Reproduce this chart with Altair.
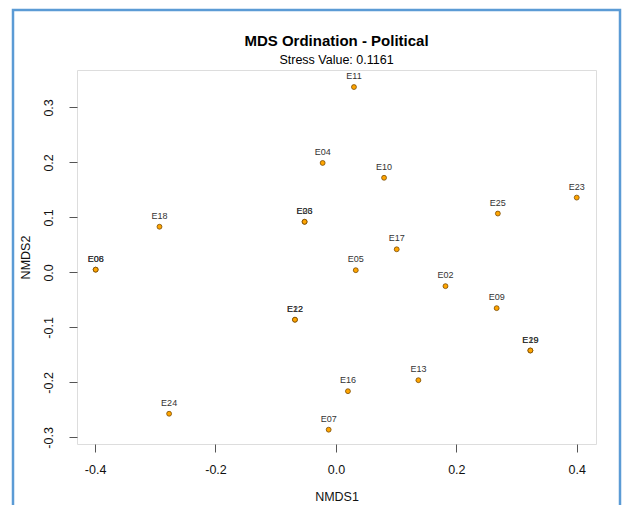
import altair as alt
import pandas as pd

# ---- data ----
sites = ["E11", "E04", "E10", "E23", "E25", "E18", "E06", "E08", "E03", "E26",
         "E17", "E05", "E02", "E09", "E29", "E19", "E22", "E12", "E13", "E16",
         "E07", "E24"]
nmds1 = [0.030, -0.022, 0.080, 0.400, 0.269, -0.293, -0.399, -0.399, -0.052, -0.052,
         0.101, 0.033, 0.182, 0.267, 0.323, 0.323, -0.068, -0.068, 0.137, 0.020,
         -0.012, -0.277]
nmds2 = [0.337, 0.199, 0.172, 0.136, 0.107, 0.083, 0.005, 0.005, 0.092, 0.092,
         0.042, 0.004, -0.025, -0.065, -0.142, -0.142, -0.086, -0.086, -0.196, -0.216,
         -0.286, -0.257]
x_ticks = [-0.4, -0.2, 0.0, 0.2, 0.4]
y_ticks = [-0.3, -0.2, -0.1, 0.0, 0.1, 0.2, 0.3]
x_domain = [-0.430, 0.432]
y_domain = [-0.312, 0.368]
title_text = "MDS Ordination - Political"
subtitle_text = "Stress Value: 0.1161"

df = pd.DataFrame({"site": sites, "NMDS1": nmds1, "NMDS2": nmds2})
one = pd.DataFrame({"a": [0]})

FONT = "Liberation Sans"
W, H = 519, 374
label_expr = "datum.value < 0 ? '-' + format(-datum.value, '.1f') : format(datum.value, '.1f')"

x_enc = alt.X(
    "NMDS1:Q",
    scale=alt.Scale(domain=x_domain, nice=False, zero=False),
    axis=alt.Axis(values=x_ticks, labelExpr=label_expr, grid=False, domain=False,
                  tickSize=8, tickColor="#555", labelPadding=11, labelFontSize=12.5,
                  labelFont=FONT, labelColor="#111", title="NMDS1", titleFont=FONT,
                  titleFontSize=12.5, titleFontWeight="normal", titleColor="#111",
                  titlePadding=15),
)
y_enc = alt.Y(
    "NMDS2:Q",
    scale=alt.Scale(domain=y_domain, nice=False, zero=False),
    axis=alt.Axis(values=y_ticks, labelExpr=label_expr, grid=False, domain=False,
                  tickSize=8, tickColor="#555", labelPadding=14, labelFontSize=12.5,
                  labelFont=FONT, labelColor="#111", labelAngle=270,
                  labelAlign="center", labelBaseline="bottom",
                  title="NMDS2", titleFont=FONT, titleFontSize=12.5,
                  titleFontWeight="normal", titleColor="#111", titlePadding=10),
)

points = alt.Chart(df).mark_point(
    filled=True, shape="circle", size=24, fill="#FFA500", stroke="#7a4a00",
    strokeWidth=0.8, opacity=1
).encode(x=x_enc, y=y_enc)

labels = alt.Chart(df).mark_text(
    dy=-11, fontSize=9, font=FONT, color="#333"
).encode(x="NMDS1:Q", y="NMDS2:Q", text="site:N")

title_mark = alt.Chart(one).mark_text(
    text=title_text, font=FONT, fontSize=15, fontWeight="bold", color="black",
    align="center", baseline="middle"
).encode(x=alt.value(W / 2), y=alt.value(-29))

subtitle_mark = alt.Chart(one).mark_text(
    text=subtitle_text, font=FONT, fontSize=12.5, color="black",
    align="center", baseline="middle"
).encode(x=alt.value(W / 2), y=alt.value(-10))

border = alt.Chart(one).mark_rect(
    fill="transparent", stroke="#5B9BD5", strokeWidth=2.5
).encode(x=alt.value(-64), x2=alt.value(543), y=alt.value(-60), y2=alt.value(460))

chart = alt.layer(points, labels, title_mark, subtitle_mark, border).properties(
    width=W,
    height=H,
    autosize=alt.AutoSizeParams(type="none"),
    padding={"left": 69, "top": 62, "right": 26, "bottom": 61},
).configure_view(stroke="#444", strokeWidth=1).configure(background="white")

chart.save("out.html", embed_options={"renderer": "svg", "actions": False})
